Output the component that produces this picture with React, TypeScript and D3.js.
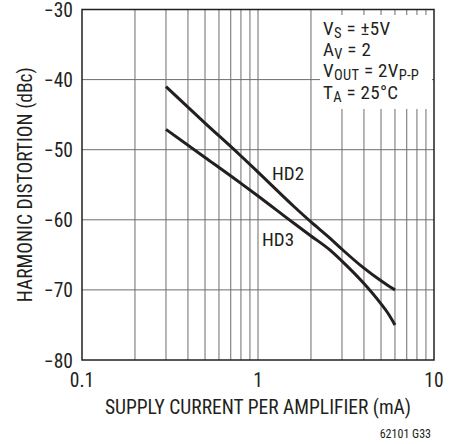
import React from 'react';
import * as d3 from 'd3';

// supply current per amplifier (mA)
const currents = [0.3, 0.5, 0.8, 1, 1.6, 2, 2.56, 3, 4, 5, 5.5, 6];
// harmonic distortion (dBc)
const hd2 = [-41, -46.2, -50.9, -53.2, -58.1, -60.3, -62.6, -64.2, -66.9, -68.7, -69.4, -70];
const hd3 = [-47.1, -51.1, -54.8, -56.6, -60.5, -62.3, -64.3, -65.9, -69.1, -72, -73.4, -75];

const xTicks = [0.1, 1, 10];
const yTicks = [-80, -70, -60, -50, -40, -30];

const W = 458;
const H = 444;
const left = 82;
const right = 434;
const top = 9.5;
const bottom = 360;

const FONT = "'Liberation Sans Narrow', 'Roboto Condensed', 'Arial Narrow', sans-serif";
const INK = '#231f20';

const Sub = ({ children }: { children: string }) => (
  <tspan fontSize={14.5} dy={2.5}>
    {children}
  </tspan>
);

const App = () => {
  const x = d3.scaleLog().domain([0.1, 10]).range([left, right]);
  const y = d3.scaleLinear().domain([-80, -30]).range([bottom, top]);

  // every 1..9 line per decade
  const minor: number[] = [];
  [0.1, 1].forEach((dec) => {
    for (let k = 2; k <= 9; k++) minor.push(dec * k);
  });

  const line = d3
    .line<number>()
    .x((_, i) => x(currents[i]))
    .y((d) => y(d))
    .curve(d3.curveMonotoneX);

  return (
    <svg
      width={W}
      height={H}
      style={{ position: 'absolute', left: 0, top: 0, background: '#fff' }}
      fontFamily={FONT}
    >
      {/* grid */}
      <g stroke="#6d6d6d" strokeWidth={1}>
        {minor.concat([1]).map((v) => (
          <line key={'v' + v} x1={x(v)} x2={x(v)} y1={top} y2={bottom} />
        ))}
        {yTicks.slice(1, -1).map((v) => (
          <line key={'h' + v} x1={left} x2={right} y1={y(v)} y2={y(v)} />
        ))}
      </g>

      {/* legend box covers grid */}
      <rect x={320} y={15} width={112} height={94} fill="#fff" />
      <g fill={INK} fontSize={19} letterSpacing={0.3}>
        <text x={323} y={35}>
          V<Sub>S</Sub>
          <tspan dy={-2.5}> = ±5V</tspan>
        </text>
        <text x={323} y={56}>
          A<Sub>V</Sub>
          <tspan dy={-2.5}> = 2</tspan>
        </text>
        <text x={323} y={77}>
          V<Sub>OUT</Sub>
          <tspan dy={-2.5}> = 2V</tspan>
          <Sub>P-P</Sub>
        </text>
        <text x={323} y={99}>
          T<Sub>A</Sub>
          <tspan dy={-2.5}> = 25°C</tspan>
        </text>
      </g>

      {/* frame */}
      <rect
        x={left}
        y={top}
        width={right - left}
        height={bottom - top}
        fill="none"
        stroke={INK}
        strokeWidth={1.5}
      />

      {/* curves */}
      <path d={line(hd2) || ''} fill="none" stroke={INK} strokeWidth={3} />
      <path d={line(hd3) || ''} fill="none" stroke={INK} strokeWidth={3} />
      <text x={272} y={180} fontSize={19} fill={INK}>HD2</text>
      <text x={262} y={246} fontSize={19} fill={INK}>HD3</text>

      {/* y ticks */}
      <g fill={INK} fontSize={19.5} textAnchor="end">
        {yTicks.map((v) => (
          <text key={v} x={73} y={y(v) + 7.5}>
            {'\u2212' + Math.abs(v)}
          </text>
        ))}
      </g>
      {/* x ticks */}
      <g fill={INK} fontSize={19.5} textAnchor="middle">
        {xTicks.map((v) => (
          <text key={v} x={x(v)} y={387}>
            {v}
          </text>
        ))}
      </g>

      <text
        x={258}
        y={414}
        fontSize={19.5}
        fill={INK}
        textAnchor="middle"
      >
        SUPPLY CURRENT PER AMPLIFIER (mA)
      </text>
      <text
        transform={`translate(32,${(top + bottom) / 2}) rotate(-90)`}
        fontSize={19.5}
        fill={INK}
        textAnchor="middle"
      >
        HARMONIC DISTORTION (dBc)
      </text>
      <text x={431} y={438} fontSize={12} fill={INK} textAnchor="end">
        62101 G33
      </text>
    </svg>
  );
};

export default App;
